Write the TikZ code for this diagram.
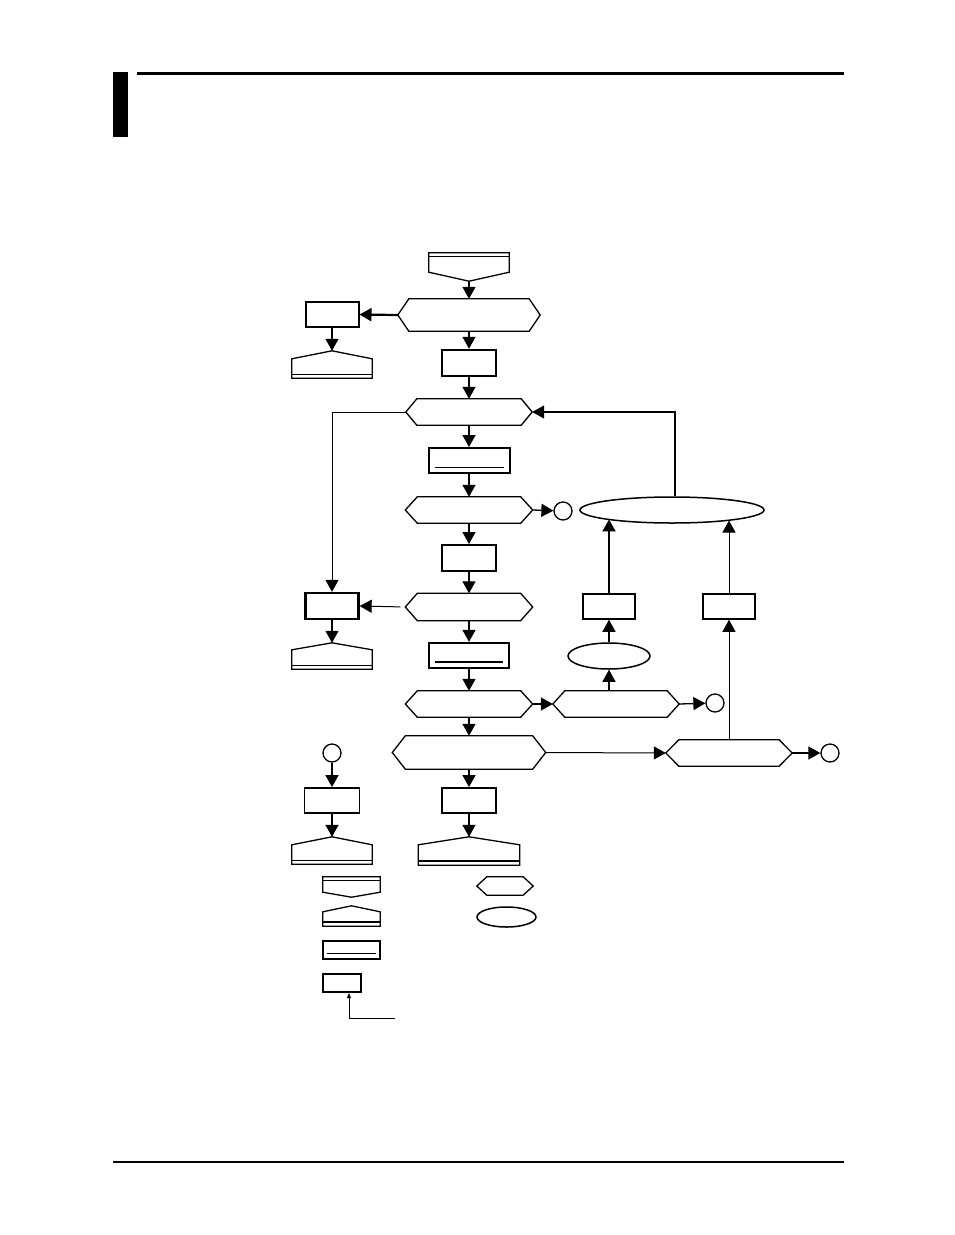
\documentclass[tikz,border=0pt]{standalone}
\usepackage{tikz}
\usetikzlibrary{shapes.geometric, arrows.meta, calc}

\begin{document}
\begin{tikzpicture}[
  x=1pt, y=-1pt,
  box/.style={rectangle, draw, line width=2pt, inner sep=0pt,
              minimum width=54pt, minimum height=26pt},
  thinbox/.style={box, line width=1.5pt},
  dbox/.style={box, append after command={\pgfextra{\let\curnode\tikzlastnode
      \draw[line width=#1] ([shift={(7pt,7pt)}]\curnode.south west)
        -- ([shift={(-7pt,7pt)}]\curnode.south east);}}},
  dbox/.default=1pt,
  hexa/.style={rectangle, inner sep=0pt, minimum height=26pt,
      append after command={\pgfextra{\let\curnode\tikzlastnode
      \draw[line width=1.3pt] (\curnode.west) -- ([xshift=#1]\curnode.north west)
        -- ([xshift=-#1]\curnode.north east) -- (\curnode.east)
        -- ([xshift=-#1]\curnode.south east) -- ([xshift=#1]\curnode.south west) -- cycle;}}},
  hexa/.default=11pt,
  downpent/.style 2 args={rectangle, inner sep=0pt,
      append after command={\pgfextra{\let\curnode\tikzlastnode
      \draw[line width=1.3pt] (\curnode.north west) -- (\curnode.north east)
        -- ([yshift=#1]\curnode.south east) -- (\curnode.south)
        -- ([yshift=#1]\curnode.south west) -- cycle;
      \draw[line width=#2] ([yshift=-4pt]\curnode.north west)
        -- ([yshift=-4pt]\curnode.north east);}}},
  uppent/.style 2 args={rectangle, inner sep=0pt,
      append after command={\pgfextra{\let\curnode\tikzlastnode
      \draw[line width=1.3pt] (\curnode.south west) -- (\curnode.south east)
        -- ([yshift=-#1]\curnode.north east) -- (\curnode.north)
        -- ([yshift=-#1]\curnode.north west) -- cycle;
      \draw[line width=#2] ([yshift=4pt]\curnode.south west)
        -- ([yshift=4pt]\curnode.south east);}}},
  oval/.style={ellipse, draw, line width=1.5pt, inner sep=0pt},
  conn/.style={circle, draw, line width=1.3pt, inner sep=0pt, minimum size=18pt},
  flow/.style={-{Triangle[length=12pt,width=13pt]}, line width=1.3pt},
  thinflow/.style={flow, line width=1pt},
  boldflow/.style={flow, line width=2.2pt},
  tinyflow/.style={-{Triangle[length=5pt,width=4pt]}, line width=1pt},
]
\useasboundingbox (0,0) rectangle (954,1235);

% Page header and footer
\fill (113,72) rectangle (128,137);
\fill (137,72) rectangle (844,75);
\draw[line width=1.2pt] (113,1162) -- (844,1162);

% Main column
\node[downpent={9pt}{1pt}, minimum width=80pt, minimum height=28pt] (start) at (469,267) {};
\node[hexa=11pt, minimum width=142pt, minimum height=32pt] (chk1) at (469,315) {};
\node[box, line width=2.5pt] (init) at (469,363) {};
\node[hexa, minimum width=126pt] (loop) at (469,412) {};
\node[dbox, minimum width=81pt, minimum height=25pt] (read) at (469,460.5) {};
\node[hexa=12pt, minimum width=127pt] (chk2) at (469,510) {};
\node[box] (calc) at (469,558) {};
\node[hexa=12pt, minimum width=127pt, minimum height=27pt] (chk3) at (469,607) {};
\node[dbox=2pt, line width=2.3pt, minimum width=80pt, minimum height=25pt] (write) at (469,655.5) {};
\node[hexa=12pt, minimum width=127pt] (chk4) at (469,704) {};
\node[hexa=13pt, minimum width=153pt, minimum height=33pt] (chk5) at (469,752.5) {};
\node[box, line width=1.8pt, minimum height=25pt] (fin) at (469,800.5) {};
\node[uppent={8pt}{2pt}, minimum width=101pt, minimum height=28pt] (exit4) at (469,851) {};

% Left column
\node[box, minimum width=53pt, minimum height=25pt] (err1) at (332,314.5) {};
\node[uppent={8pt}{1pt}, minimum width=80pt, minimum height=27pt] (exit1) at (332,364.5) {};
\node[box, line width=2.3pt, minimum width=53pt] (err2) at (332,606) {};
\node[uppent={7pt}{1pt}, minimum width=80pt, minimum height=26pt] (exit2) at (332,656) {};
\node[conn] (in1) at (332,753) {};
\node[box, line width=1.8pt, minimum width=55pt, minimum height=25pt] (err3) at (332,800.5) {};
\node[uppent={8pt}{1pt}, minimum width=80pt, minimum height=27pt] (exit3) at (332,850.5) {};

% Right side
\node[conn] (out1) at (563,511) {};
\node[oval, minimum width=184pt, minimum height=26pt] (next) at (672,510) {};
\node[hexa=12pt, minimum width=126pt] (chk6) at (616,704) {};
\node[conn] (out2) at (715,703) {};
\node[oval, minimum width=82pt, minimum height=26pt] (sub) at (609,656) {};
\node[thinbox, minimum width=52pt, minimum height=25pt] (upd1) at (609,606.5) {};
\node[thinbox, minimum width=52pt, minimum height=25pt] (upd2) at (729,606.5) {};
\node[hexa=13pt, minimum width=126pt] (chk7) at (729,753) {};
\node[conn] (out3) at (830,753) {};

% Legend
\node[downpent={5pt}{1pt}, minimum width=57pt, minimum height=20pt] (key1) at (351.5,887) {};
\node[uppent={6pt}{1.5pt}, minimum width=57pt, minimum height=20pt] (key2) at (351.5,916) {};
\node[box, minimum width=57pt, minimum height=18pt,
      append after command={\pgfextra{\let\curnode\tikzlastnode
      \draw[line width=1pt] ([shift={(5pt,7pt)}]\curnode.south west)
        -- ([shift={(-5pt,7pt)}]\curnode.south east);}}] (key3) at (351.5,950) {};
\node[box, minimum width=38pt, minimum height=18pt] (key4) at (342,983) {};
\node[hexa=10pt, minimum width=56pt, minimum height=18pt] (key5) at (505,886) {};
\node[oval, minimum width=59pt, minimum height=20pt] (key6) at (506.5,917) {};
\coordinate (note) at (395,1018);

% Arrows, main column
\draw[flow] (start) -- (chk1);
\draw[flow] (chk1) -- (init);
\draw[flow] (init) -- (loop);
\draw[flow] (loop) -- (read);
\draw[flow] (read) -- (chk2);
\draw[flow] (chk2) -- (calc);
\draw[flow] (calc) -- (chk3);
\draw[flow] (chk3) -- (write);
\draw[flow] (write) -- (chk4);
\draw[flow] (chk4) -- (chk5);
\draw[flow] (chk5) -- (fin);
\draw[flow] (fin) -- (exit4);

% Arrows, left column
\draw[boldflow] (chk1.west) -- (err1.east);
\draw[flow] (err1) -- (exit1);
\draw[thinflow] (loop.west) -| (err2.north);
\draw[thinflow, shorten <=5pt] (chk3.west) -- (err2.east);
\draw[flow] (err2) -- (exit2);
\draw[flow] (in1) -- (err3);
\draw[flow] (err3) -- (exit3);

% Arrows, right side
\draw[flow] (chk2.east) -- (out1);
\draw[flow] (chk4.east) -- (chk6.west);
\draw[flow] (chk6.east) -- (out2);
\draw[flow] (chk6.north -| sub) -- (sub);
\draw[flow] (sub) -- (upd1);
\draw[boldflow] (upd1.north) -- (upd1.north |- next.188);
\draw[thinflow] (chk5.east) -- (chk7.west);
\draw[flow] (chk7.east) -- (out3);
\draw[thinflow] (chk7) -- (upd2);
\draw[thinflow] (upd2.north) -- (upd2.north |- next.350);
\draw[flow] ([xshift=3pt]next.north) |- (loop.east);

% Legend pointer
\draw[tinyflow] (note) -| ([xshift=7pt]key4.south);

\end{tikzpicture}
\end{document}
